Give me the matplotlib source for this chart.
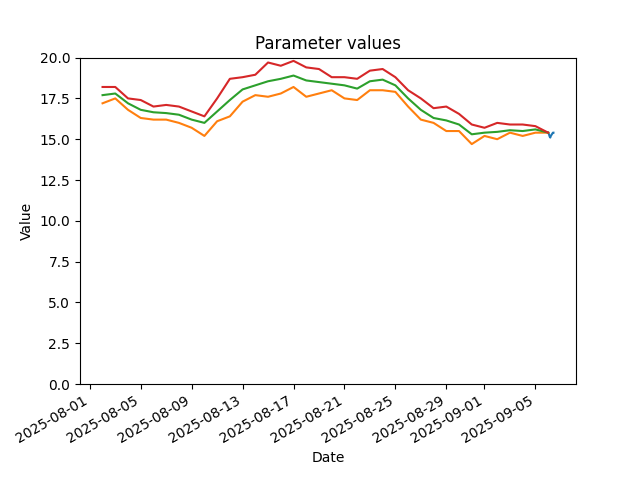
import matplotlib
matplotlib.use("Agg")
import matplotlib.pyplot as plt
import numpy as np
import pandas as pd

# daily band (lower / mean / upper), 2025-08-02 .. 2025-09-06
days = pd.date_range("2025-08-02", "2025-09-06", freq="D")
lower = [17.2, 17.5, 16.8, 16.3, 16.2, 16.2, 16.0, 15.7, 15.2, 16.1,
         16.4, 17.3, 17.7, 17.6, 17.8, 18.2, 17.6, 17.8, 18.0, 17.5,
         17.4, 18.0, 18.0, 17.9, 17.0, 16.2, 16.0, 15.5, 15.5, 14.7,
         15.2, 15.0, 15.4, 15.2, 15.4, 15.4]
mean = [17.7, 17.8, 17.2, 16.8, 16.65, 16.6, 16.5, 16.2, 16.0, 16.7,
        17.4, 18.05, 18.3, 18.55, 18.7, 18.9, 18.6, 18.5, 18.4, 18.3,
        18.1, 18.55, 18.65, 18.3, 17.5, 16.8, 16.3, 16.15, 15.9, 15.3,
        15.4, 15.45, 15.55, 15.5, 15.6, 15.4]
upper = [18.2, 18.2, 17.5, 17.4, 17.0, 17.1, 17.0, 16.7, 16.4, 17.5,
         18.7, 18.8, 18.95, 19.7, 19.5, 19.8, 19.4, 19.3, 18.8, 18.8,
         18.7, 19.2, 19.3, 18.8, 18.0, 17.5, 16.9, 17.0, 16.55, 15.9,
         15.7, 16.0, 15.9, 15.9, 15.8, 15.4]

# hourly actuals on the last day
hours = pd.date_range("2025-09-06 00:00", "2025-09-06 10:00", freq="h")
actual = [15.4, 15.35, 15.25, 15.15, 15.1, 15.2, 15.25, 15.3, 15.35, 15.4, 15.4]

fig, ax = plt.subplots(figsize=(6.4, 4.8))
ax.plot(hours, actual)
ax.plot(days, lower)
ax.plot(days, mean)
ax.plot(days, upper)

ax.set_ylim(0, 20)
ax.set_title("Parameter values")
ax.set_xlabel("Date")
ax.set_ylabel("Value")
fig.autofmt_xdate()

plt.savefig("out.png", dpi=100)
